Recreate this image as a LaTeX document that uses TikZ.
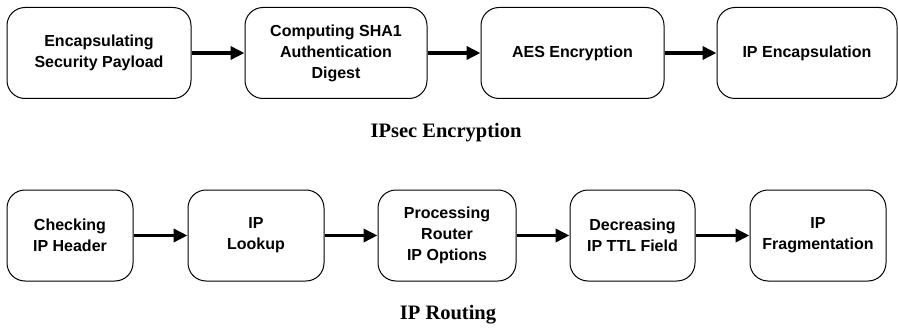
\documentclass[tikz,border=0pt]{standalone}
\usepackage{fontspec}
\setmainfont{Liberation Serif}
\setsansfont{Liberation Sans}
\usetikzlibrary{arrows.meta,positioning}

\begin{document}
\begin{tikzpicture}[x=1pt,y=-1pt,
  stage/.style={draw,line width=1pt,rounded corners=18pt,minimum height=91pt,inner sep=2pt,align=center,font=\sffamily\bfseries\fontsize{16}{21}\selectfont},
  flow/.style={-{Triangle[length=14pt,width=13pt]},line width=3.5pt},
  caption/.style={font=\bfseries\fontsize{20.5}{24}\selectfont}]
\useasboundingbox (0,0) rectangle (898,329);
% IPsec row
\node [stage,minimum width=184pt] (esp)   at (99,53)    {Encapsulating\\Security Payload};
\node [stage,minimum width=182pt] (sha)   at (336,53)   {Computing SHA1\\Authentication\\Digest};
\node [stage,minimum width=183pt] (aes)   at (572.5,53) {AES Encryption};
\node [stage,minimum width=180pt] (ipenc) at (807,53)   {IP Encapsulation};
\draw [flow] (esp) -- (sha);
\draw [flow] (sha) -- (aes);
\draw [flow] (aes) -- (ipenc);
\node [caption] (ipsec) at (446,133) {IPsec Encryption};
% routing row
\node [stage,minimum width=126pt] (chk)    at (70,235.5)  {Checking\\IP Header};
\node [stage,minimum width=136pt] (lookup) at (256,235.5) {IP\\Lookup};
\node [stage,minimum width=138pt] (opts)   at (447,235.5) {Processing\\Router\\IP Options};
\node [stage,minimum width=125pt] (ttl)    at (632.5,235.5) {Decreasing\\IP TTL Field};
\node [stage,minimum width=136pt] (frag)   at (818,235.5) {IP\\Fragmentation};
\draw [flow] (chk) -- (lookup);
\draw [flow] (lookup) -- (opts);
\draw [flow] (opts) -- (ttl);
\draw [flow] (ttl) -- (frag);
\node [caption] (routing) at (448,315) {IP Routing};
\end{tikzpicture}
\end{document}
